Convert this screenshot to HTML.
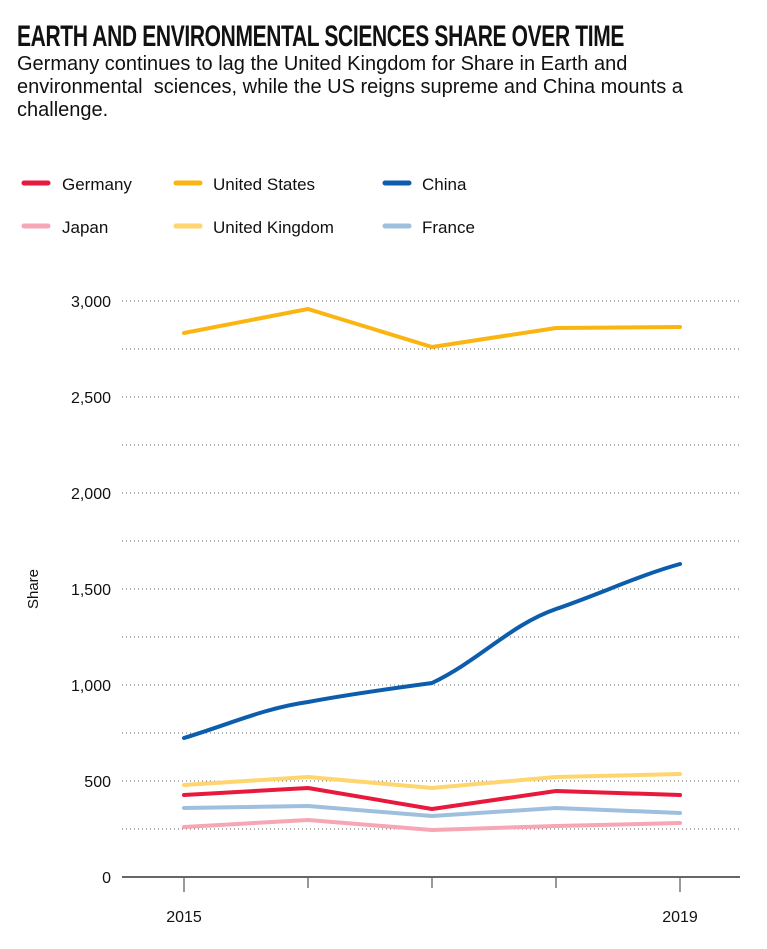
<!DOCTYPE html>
<html><head><meta charset="utf-8">
<style>
body{margin:0;background:#fff;width:767px;height:949px;overflow:hidden;font-family:"Liberation Sans",sans-serif;color:#111;}
#t{position:absolute;left:17px;top:20px;font-weight:bold;font-size:30px;letter-spacing:-0.5px;transform:scaleX(0.70);transform-origin:0 0;white-space:nowrap;}
#s{position:absolute;left:17px;top:53px;font-size:20px;line-height:23px;white-space:nowrap;}
</style></head><body>
<div id="t">EARTH AND ENVIRONMENTAL SCIENCES SHARE OVER TIME</div>
<div id="s">Germany continues to lag the United Kingdom for Share in Earth and<br>environmental&nbsp; sciences, while the US reigns supreme and China mounts a<br>challenge.</div>
<svg width="767" height="949" style="position:absolute;left:0;top:0" font-family="Liberation Sans, sans-serif">
<g stroke-width="5" stroke-linecap="round">
<line x1="24" y1="183" x2="48" y2="183" stroke="#e8193c"/>
<line x1="176" y1="183" x2="200" y2="183" stroke="#fbb512"/>
<line x1="385" y1="183" x2="409" y2="183" stroke="#0c5ead"/>
<line x1="24" y1="226" x2="48" y2="226" stroke="#f6a6b5"/>
<line x1="176" y1="226" x2="200" y2="226" stroke="#fed56f"/>
<line x1="385" y1="226" x2="409" y2="226" stroke="#9ebfde"/>
</g>
<g font-size="17" fill="#111">
<text x="62" y="190">Germany</text><text x="213" y="190">United States</text><text x="422" y="190">China</text>
<text x="62" y="233">Japan</text><text x="213" y="233">United Kingdom</text><text x="422" y="233">France</text>
</g>
<g stroke="#666" stroke-width="1" stroke-dasharray="1,3">
<line x1="122" y1="301" x2="740" y2="301"/><line x1="122" y1="349" x2="740" y2="349"/>
<line x1="122" y1="397" x2="740" y2="397"/><line x1="122" y1="445" x2="740" y2="445"/>
<line x1="122" y1="493" x2="740" y2="493"/><line x1="122" y1="541" x2="740" y2="541"/>
<line x1="122" y1="589" x2="740" y2="589"/><line x1="122" y1="637" x2="740" y2="637"/>
<line x1="122" y1="685" x2="740" y2="685"/><line x1="122" y1="733" x2="740" y2="733"/>
<line x1="122" y1="781" x2="740" y2="781"/><line x1="122" y1="829" x2="740" y2="829"/>
</g>
<g font-size="16" fill="#111" text-anchor="end">
<text x="111" y="307">3,000</text><text x="111" y="403">2,500</text><text x="111" y="499">2,000</text>
<text x="111" y="595">1,500</text><text x="111" y="691">1,000</text><text x="111" y="787">500</text><text x="111" y="883">0</text>
</g>
<text transform="translate(38,589) rotate(-90)" font-size="15" text-anchor="middle" fill="#111">Share</text>
<line x1="122" y1="877" x2="740" y2="877" stroke="#333" stroke-width="1.5"/>
<g stroke="#333" stroke-width="1">
<line x1="184" y1="878" x2="184" y2="892"/><line x1="308" y1="878" x2="308" y2="888"/>
<line x1="432" y1="878" x2="432" y2="888"/><line x1="556" y1="878" x2="556" y2="888"/>
<line x1="680" y1="878" x2="680" y2="892"/>
</g>
<g font-size="16" fill="#111" text-anchor="middle"><text x="184" y="922">2015</text><text x="680" y="922">2019</text></g>
<g fill="none" stroke-width="4" stroke-linejoin="round" stroke-linecap="round">
<polyline stroke="#f6a6b5" points="184,827 308,820 432,830 556,826 680,823"/>
<polyline stroke="#9ebfde" points="184,808 308,806 432,816 556,808 680,813"/>
<polyline stroke="#e8193c" points="184,795 308,788 432,809 556,791 680,795"/>
<polyline stroke="#fed56f" points="184,785 308,777 432,788 556,777 680,774"/>
<path stroke="#0c5ead" d="M184,738 C230,724 265,708 308,702 C350,694 395,688 432,683 C480,660 510,625 556,609 C600,594 640,575 680,564"/>
<polyline stroke="#fbb512" points="184,333 308,309 432,347 556,328 680,327"/>
</g>
</svg>
</body></html>
